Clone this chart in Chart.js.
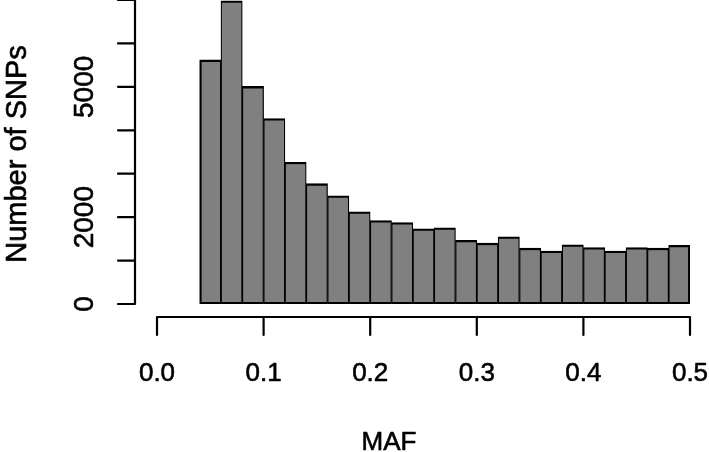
<!DOCTYPE html>
<html>
<head>
<meta charset="utf-8">
<script src="https://cdn.jsdelivr.net/npm/chart.js@4/dist/chart.umd.min.js"></script>
<style>
  html, body { margin: 0; padding: 0; background: #fff; }
  #wrap { width: 709px; height: 452px; }
</style>
</head>
<body>
<div id="wrap"><canvas id="hist" width="709" height="452"></canvas></div>
<script>
(function () {

// -------------------------------------------------------------------------------------------------------

// lower edge of each MAF bin (bin width 0.02)
var binStarts = [0.04, 0.06, 0.08, 0.10, 0.12, 0.14, 0.16, 0.18, 0.20, 0.22, 0.24, 0.26,
                 0.28, 0.30, 0.32, 0.34, 0.36, 0.38, 0.40, 0.42, 0.44, 0.46, 0.48];
var snpCounts = [5620, 6980, 5010, 4270, 3265, 2770, 2490, 2125, 1920, 1875, 1730, 1755,
                 1465, 1400, 1545, 1285, 1220, 1365, 1300, 1220, 1300, 1285, 1350];
var binWidth = 0.02;

var xTicks = [0.0, 0.1, 0.2, 0.3, 0.4, 0.5];
var xTickLabels = ['0.0', '0.1', '0.2', '0.3', '0.4', '0.5'];
var yTicks = [0, 1000, 2000, 3000, 4000, 5000, 6000, 7000];
var yTickLabels = ['0', '', '2000', '', '', '5000', '', ''];

// -------------------------------------------------------------------------------------------------------

var FONT = '"Liberation Sans", Arial, Helvetica, sans-serif';

var points = binStarts.map(function (b, i) {
    return { x: b + binWidth / 2, y: snpCounts[i] };
});

// text a touch heavier, like the R device output
function label(ctx, txt, x, y) {
    ctx.fillText(txt, x, y);
    ctx.strokeText(txt, x, y);
}

// base R style axes, detached from the plot region
var rAxes = {
    id: 'rAxes',
    afterDraw: function (chart) {
        var ctx = chart.ctx, x = chart.scales.x, y = chart.scales.y;
        ctx.save();
        ctx.strokeStyle = '#000';
        ctx.fillStyle = '#000';
        ctx.lineWidth = 2.2;
        ctx.lineCap = 'round';

        // x axis
        var xa = 317;
        ctx.beginPath();
        ctx.moveTo(x.getPixelForValue(xTicks[0]), xa);
        ctx.lineTo(x.getPixelForValue(xTicks[xTicks.length - 1]), xa);
        xTicks.forEach(function (t) {
            var px = x.getPixelForValue(t);
            ctx.moveTo(px, xa);
            ctx.lineTo(px, xa + 18);
        });
        ctx.stroke();

        // y axis
        var ya = 135;
        ctx.beginPath();
        ctx.moveTo(ya, y.getPixelForValue(yTicks[0]));
        ctx.lineTo(ya, y.getPixelForValue(yTicks[yTicks.length - 1]));
        yTicks.forEach(function (t) {
            var py = y.getPixelForValue(t);
            ctx.moveTo(ya, py);
            ctx.lineTo(ya - 17, py);
        });
        ctx.stroke();

        ctx.lineWidth = 0.6;
        ctx.lineJoin = 'round';
        ctx.textAlign = 'center';
        ctx.textBaseline = 'alphabetic';

        ctx.font = '26px ' + FONT;
        xTicks.forEach(function (t, i) {
            label(ctx, xTickLabels[i], x.getPixelForValue(t), 381);
        });

        ctx.font = '28px ' + FONT;
        yTicks.forEach(function (t, i) {
            if (!yTickLabels[i]) return;
            ctx.save();
            ctx.translate(93, y.getPixelForValue(t));
            ctx.rotate(-Math.PI / 2);
            label(ctx, yTickLabels[i], 0, 0);
            ctx.restore();
        });

        // axis titles
        ctx.font = '26px ' + FONT;
        label(ctx, 'MAF', 389, 450);

        ctx.save();
        ctx.font = '29px ' + FONT;
        ctx.translate(26, 154);
        ctx.rotate(-Math.PI / 2);
        label(ctx, 'Number of SNPs', 0, 0);
        ctx.restore();

        ctx.restore();
    }
};

window.histChart = (function () {
    try {
        var canvas = document.getElementById('hist');
        if (!canvas) return;
        var ctx = canvas.getContext('2d');
        var last = points.length - 1;

        return new Chart(ctx, {
            type: 'bar',
            data: {
                datasets: [{
                    data: points,
                    backgroundColor: '#808080',
                    borderColor: '#000',
                    borderWidth: function (c) {
                        return {
                            top: 2.3, bottom: 2.3,
                            left: c.dataIndex === 0 ? 2.3 : 1.25,
                            right: c.dataIndex === last ? 2.3 : 1.25
                        };
                    },
                    borderSkipped: false,
                    barPercentage: 1,
                    categoryPercentage: 1
                }]
            },
            options: {
                responsive: false,
                animation: false,
                layout: { padding: { left: 157, right: 19, top: 0, bottom: 148 } },
                plugins: { legend: { display: false }, tooltip: { enabled: false } },
                scales: {
                    x: { type: 'linear', min: 0, max: 0.5, offset: false, display: false },
                    y: { type: 'linear', min: 0, max: 7000, display: false }
                }
            },
            plugins: [rAxes]
        });
    } catch (e) { console.log(e); }
})();

// -------------------------------------------------------------------------------------------------------

})();
</script>
</body>
</html>
